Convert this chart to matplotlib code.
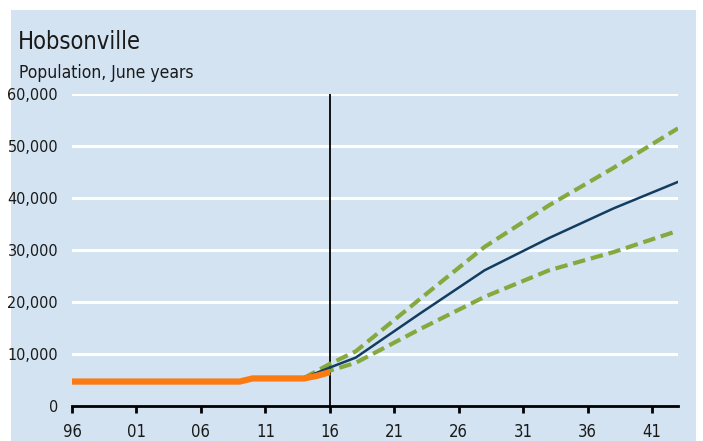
import matplotlib.pyplot as plt
from matplotlib.patches import Rectangle

# historical population
hist_years = [1996, 2001, 2006, 2009, 2010, 2013, 2014, 2015, 2016]
hist_pop = [4700, 4700, 4700, 4700, 5300, 5300, 5300, 5800, 6500]

# projections
proj_years = [2014, 2016, 2018, 2023, 2028, 2033, 2038, 2043]
proj_medium = [5400, 7400, 9300, 17800, 26100, 32300, 38000, 43100]
proj_high = [5400, 8100, 10500, 20600, 30600, 38600, 45800, 53400]
proj_low = [5400, 6800, 8300, 14800, 21000, 26100, 29600, 33700]

xtick_years = [1996, 2001, 2006, 2011, 2016, 2021, 2026, 2031, 2036, 2041]
xtick_labels = ["96", "01", "06", "11", "16", "21", "26", "31", "36", "41"]
yticks = [0, 10000, 20000, 30000, 40000, 50000, 60000]

panel = "#d3e3f1"
txt = dict(family="DejaVu Sans", fontstretch="condensed", color="#1a1a1a")

W, H = 703, 441
fig = plt.figure(figsize=(W / 100, H / 100), dpi=100, facecolor="white")
fig.patches.append(Rectangle((11 / W, 0), (696 - 11) / W, (H - 10) / H,
                             transform=fig.transFigure, facecolor=panel,
                             edgecolor="none", zorder=-10))

ax = fig.add_axes([72 / W, 1 - 406 / H, (678 - 72) / W, (406 - 94) / H])
ax.set_facecolor("none")
ax.set_xlim(1996, 2043)
ax.set_ylim(0, 60000)

for y in yticks[1:]:
    ax.axhline(y, color="white", lw=2.2, zorder=1)

ax.axvline(2016, color="black", lw=1.3, zorder=2)

ax.plot(proj_years, proj_high, color="#86a93f", lw=3, ls=(0, (3, 1.4)), zorder=3)
ax.plot(proj_years, proj_low, color="#86a93f", lw=3, ls=(0, (3, 1.4)), zorder=3)
ax.plot(proj_years, proj_medium, color="#123d60", lw=1.8, zorder=4)
ax.plot(hist_years, hist_pop, color="#fb7a12", lw=4.5, solid_capstyle="butt", zorder=5)

for s in ["top", "right", "left"]:
    ax.spines[s].set_visible(False)
ax.spines["bottom"].set_linewidth(2)
ax.spines["bottom"].set_zorder(6)

ax.set_xticks(xtick_years)
ax.set_xticklabels(xtick_labels, fontsize=12, **txt)
ax.set_yticks(yticks)
ax.set_yticklabels([f"{v:,}" for v in yticks], fontsize=11.5, **txt)
ax.tick_params(axis="x", direction="out", length=5, width=2, pad=7)
ax.tick_params(axis="y", length=0, pad=10)

fig.text(18 / W, 1 - 49 / H, "Hobsonville", fontsize=17, **txt)
fig.text(19 / W, 1 - 78 / H, "Population, June years", fontsize=12.5, **txt)

fig.savefig("out.png", dpi=100, facecolor="white")
